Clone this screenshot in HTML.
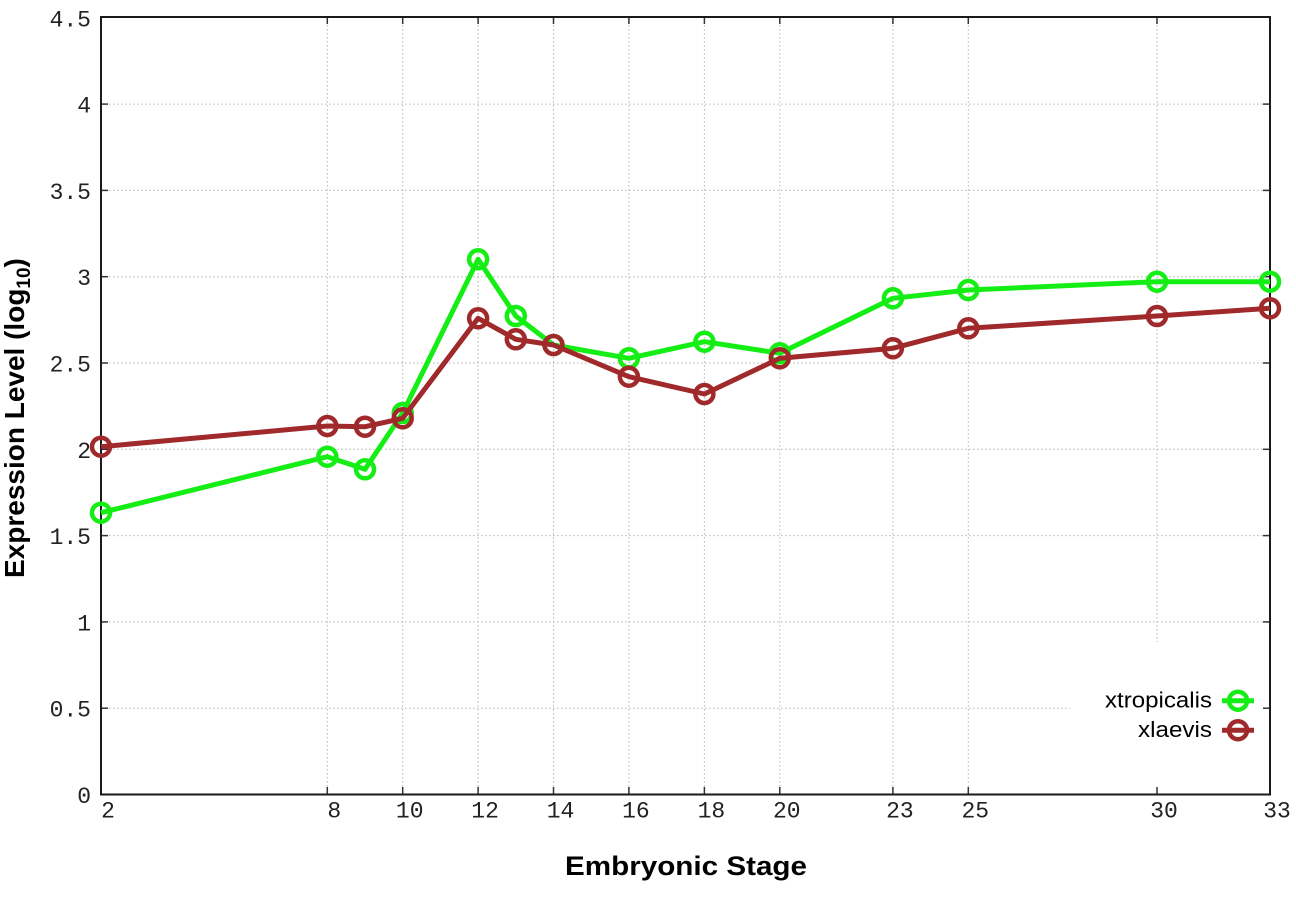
<!DOCTYPE html>
<html>
<head>
<meta charset="utf-8">
<style>
  html, body { margin: 0; padding: 0; background: #ffffff; }
  svg { display: block; }
  .tick { font-family: "Liberation Mono", monospace; font-size: 23px; fill: #222; }
  .lab { font-family: "Liberation Sans", sans-serif; font-weight: bold; fill: #000; }
  .leg { font-family: "Liberation Sans", sans-serif; font-size: 22px; fill: #000; }
</style>
</head>
<body>
<svg width="1296" height="907" viewBox="0 0 1296 907" xmlns="http://www.w3.org/2000/svg">
  <rect x="0" y="0" width="1296" height="907" fill="#ffffff"/>

  <!-- grid -->
  <g stroke="#b4b4b4" stroke-width="1" stroke-dasharray="1.5,2.5" fill="none">
    <line x1="101" y1="708.2" x2="1270" y2="708.2"/>
    <line x1="101" y1="621.9" x2="1270" y2="621.9"/>
    <line x1="101" y1="535.6" x2="1270" y2="535.6"/>
    <line x1="101" y1="449.3" x2="1270" y2="449.3"/>
    <line x1="101" y1="363" x2="1270" y2="363"/>
    <line x1="101" y1="276.7" x2="1270" y2="276.7"/>
    <line x1="101" y1="190.4" x2="1270" y2="190.4"/>
    <line x1="101" y1="104.1" x2="1270" y2="104.1"/>
    <line x1="327.3" y1="17" x2="327.3" y2="795"/>
    <line x1="402.7" y1="17" x2="402.7" y2="795"/>
    <line x1="478.1" y1="17" x2="478.1" y2="795"/>
    <line x1="553.5" y1="17" x2="553.5" y2="795"/>
    <line x1="628.9" y1="17" x2="628.9" y2="795"/>
    <line x1="704.4" y1="17" x2="704.4" y2="795"/>
    <line x1="779.8" y1="17" x2="779.8" y2="795"/>
    <line x1="892.9" y1="17" x2="892.9" y2="795"/>
    <line x1="968.3" y1="17" x2="968.3" y2="795"/>
    <line x1="1157" y1="17" x2="1157" y2="795"/>
  </g>

  <!-- legend background -->
  <rect x="1070" y="642" width="199" height="152" fill="#ffffff"/>

  <!-- ticks -->
  <g stroke="#333" stroke-width="1.5">
    <line x1="101" y1="708.2" x2="108" y2="708.2"/><line x1="1270" y1="708.2" x2="1263" y2="708.2"/>
    <line x1="101" y1="621.9" x2="108" y2="621.9"/><line x1="1270" y1="621.9" x2="1263" y2="621.9"/>
    <line x1="101" y1="535.6" x2="108" y2="535.6"/><line x1="1270" y1="535.6" x2="1263" y2="535.6"/>
    <line x1="101" y1="449.3" x2="108" y2="449.3"/><line x1="1270" y1="449.3" x2="1263" y2="449.3"/>
    <line x1="101" y1="363" x2="108" y2="363"/><line x1="1270" y1="363" x2="1263" y2="363"/>
    <line x1="101" y1="276.7" x2="108" y2="276.7"/><line x1="1270" y1="276.7" x2="1263" y2="276.7"/>
    <line x1="101" y1="190.4" x2="108" y2="190.4"/><line x1="1270" y1="190.4" x2="1263" y2="190.4"/>
    <line x1="101" y1="104.1" x2="108" y2="104.1"/><line x1="1270" y1="104.1" x2="1263" y2="104.1"/>
    <line x1="327.3" y1="795" x2="327.3" y2="787"/><line x1="327.3" y1="17" x2="327.3" y2="24"/>
    <line x1="402.7" y1="795" x2="402.7" y2="787"/><line x1="402.7" y1="17" x2="402.7" y2="24"/>
    <line x1="478.1" y1="795" x2="478.1" y2="787"/><line x1="478.1" y1="17" x2="478.1" y2="24"/>
    <line x1="553.5" y1="795" x2="553.5" y2="787"/><line x1="553.5" y1="17" x2="553.5" y2="24"/>
    <line x1="628.9" y1="795" x2="628.9" y2="787"/><line x1="628.9" y1="17" x2="628.9" y2="24"/>
    <line x1="704.4" y1="795" x2="704.4" y2="787"/><line x1="704.4" y1="17" x2="704.4" y2="24"/>
    <line x1="779.8" y1="795" x2="779.8" y2="787"/><line x1="779.8" y1="17" x2="779.8" y2="24"/>
    <line x1="892.9" y1="795" x2="892.9" y2="787"/><line x1="892.9" y1="17" x2="892.9" y2="24"/>
    <line x1="968.3" y1="795" x2="968.3" y2="787"/><line x1="968.3" y1="17" x2="968.3" y2="24"/>
    <line x1="1157" y1="795" x2="1157" y2="787"/><line x1="1157" y1="17" x2="1157" y2="24"/>
  </g>

  <!-- border -->
  <rect x="101" y="17" width="1169" height="777.5" fill="none" stroke="#1a1a1a" stroke-width="2"/>

  <!-- y tick labels -->
  <g class="tick" text-anchor="end">
    <text x="91" y="803">0</text>
    <text x="91" y="716.7">0.5</text>
    <text x="91" y="630.4">1</text>
    <text x="91" y="544.1">1.5</text>
    <text x="91" y="457.8">2</text>
    <text x="91" y="371.5">2.5</text>
    <text x="91" y="285.2">3</text>
    <text x="91" y="198.9">3.5</text>
    <text x="91" y="112.6">4</text>
    <text x="91" y="26.3">4.5</text>
  </g>

  <!-- x tick labels -->
  <g class="tick" text-anchor="middle">
    <text x="108" y="817.5">2</text>
    <text x="334.3" y="817.5">8</text>
    <text x="409.7" y="817.5">10</text>
    <text x="485.1" y="817.5">12</text>
    <text x="560.5" y="817.5">14</text>
    <text x="635.9" y="817.5">16</text>
    <text x="711.4" y="817.5">18</text>
    <text x="786.8" y="817.5">20</text>
    <text x="899.9" y="817.5">23</text>
    <text x="975.3" y="817.5">25</text>
    <text x="1164" y="817.5">30</text>
    <text x="1277" y="817.5">33</text>
  </g>

  <!-- axis labels -->
  <text class="lab" x="565" y="875" font-size="27" textLength="242" lengthAdjust="spacingAndGlyphs">Embryonic Stage</text>
  <text class="lab" transform="translate(24,578) rotate(-90)" font-size="28" x="0" y="0">Expression Level (log<tspan font-size="19" dy="6">10</tspan><tspan dy="-6">)</tspan></text>

  <!-- xtropicalis -->
  <g stroke="#14ee14" fill="none">
    <polyline stroke-width="5" stroke-linejoin="round" points="101,512.7 327.3,456.7 365,469.3 402.7,413 478.1,259.3 515.8,316 553.5,345 628.9,358.3 704.4,341.7 779.8,353.3 892.9,298.3 968.3,290 1157,281.7 1270,281.7"/>
    <g stroke-width="4.5">
      <circle cx="101" cy="512.7" r="9"/>
      <circle cx="327.3" cy="456.7" r="9"/>
      <circle cx="365" cy="469.3" r="9"/>
      <circle cx="402.7" cy="413" r="9"/>
      <circle cx="478.1" cy="259.3" r="9"/>
      <circle cx="515.8" cy="316" r="9"/>
      <circle cx="553.5" cy="345" r="9"/>
      <circle cx="628.9" cy="358.3" r="9"/>
      <circle cx="704.4" cy="341.7" r="9"/>
      <circle cx="779.8" cy="353.3" r="9"/>
      <circle cx="892.9" cy="298.3" r="9"/>
      <circle cx="968.3" cy="290" r="9"/>
      <circle cx="1157" cy="281.7" r="9"/>
      <circle cx="1270" cy="281.7" r="9"/>
    </g>
  </g>

  <!-- xlaevis -->
  <g stroke="#a0292b" fill="none">
    <polyline stroke-width="5" stroke-linejoin="round" points="101,446.7 327.3,426 365,426.7 402.7,418.3 478.1,318.3 515.8,339.3 553.5,345 628.9,376.7 704.4,394 779.8,358.3 892.9,348.3 968.3,328.3 1157,316 1270,308.3"/>
    <g stroke-width="4.5">
      <circle cx="101" cy="446.7" r="9"/>
      <circle cx="327.3" cy="426" r="9"/>
      <circle cx="365" cy="426.7" r="9"/>
      <circle cx="402.7" cy="418.3" r="9"/>
      <circle cx="478.1" cy="318.3" r="9"/>
      <circle cx="515.8" cy="339.3" r="9"/>
      <circle cx="553.5" cy="345" r="9"/>
      <circle cx="628.9" cy="376.7" r="9"/>
      <circle cx="704.4" cy="394" r="9"/>
      <circle cx="779.8" cy="358.3" r="9"/>
      <circle cx="892.9" cy="348.3" r="9"/>
      <circle cx="968.3" cy="328.3" r="9"/>
      <circle cx="1157" cy="316" r="9"/>
      <circle cx="1270" cy="308.3" r="9"/>
    </g>
  </g>

  <!-- legend -->
  <text class="leg" x="1105" y="707.3" textLength="107" lengthAdjust="spacingAndGlyphs">xtropicalis</text>
  <text class="leg" x="1138" y="736.8" textLength="74" lengthAdjust="spacingAndGlyphs">xlaevis</text>
  <g fill="none">
    <line x1="1222" y1="700.7" x2="1254" y2="700.7" stroke="#14ee14" stroke-width="5"/>
    <circle cx="1238" cy="700.7" r="9" stroke="#14ee14" stroke-width="4.5"/>
    <line x1="1222" y1="730.2" x2="1254" y2="730.2" stroke="#a0292b" stroke-width="5"/>
    <circle cx="1238" cy="730.2" r="9" stroke="#a0292b" stroke-width="4.5"/>
  </g>
</svg>
</body>
</html>
